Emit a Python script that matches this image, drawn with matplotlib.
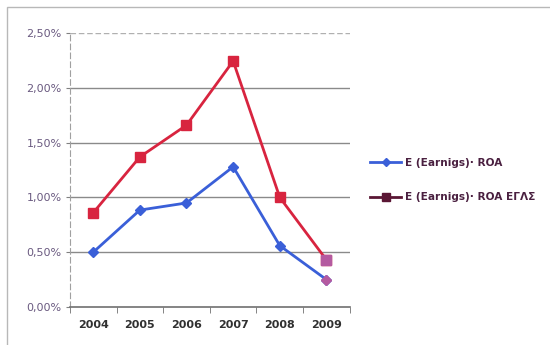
import matplotlib
matplotlib.use("Agg")
import matplotlib.pyplot as plt
from matplotlib.lines import Line2D
from matplotlib.patches import Rectangle
from matplotlib.ticker import FuncFormatter

years = ["2004", "2005", "2006", "2007", "2008", "2009"]
roa = [0.50, 0.885, 0.95, 1.28, 0.56, 0.25]
roa_eglas = [0.86, 1.37, 1.66, 2.245, 1.00, 0.43]
label_roa = "E (Earnigs)· ROA"
label_eglas = "E (Earnigs)· ROA ΕΓΛΣ"

blue = "#3a5fd8"
red = "#d8243f"
maroon = "#5a1634"
last_pt = "#b45aa0"
label_col = "#6a5a80"

fig = plt.figure(figsize=(5.5, 3.45), dpi=100)
fig.patch.set_facecolor("white")
fig.patches.append(Rectangle((0.012, -0.01), 1.0, 0.99, transform=fig.transFigure,
                             fill=False, edgecolor="#b8b8b8", linewidth=1.0))

ax = fig.add_axes([0.127, 0.110, 0.509, 0.794])
x = list(range(len(years)))

ax.plot(x, roa_eglas, color=red, linewidth=2.0, marker="s", markersize=7,
        markerfacecolor=red, markeredgecolor=red, zorder=3)
ax.plot(x, roa, color=blue, linewidth=2.0, marker="D", markersize=5,
        markerfacecolor=blue, markeredgecolor=blue, zorder=4)
# last year's points carry their own fill
ax.plot(x[-1:], roa_eglas[-1:], linestyle="none", marker="s", markersize=7,
        markerfacecolor=last_pt, markeredgecolor=last_pt, zorder=5)
ax.plot(x[-1:], roa[-1:], linestyle="none", marker="D", markersize=5,
        markerfacecolor=last_pt, markeredgecolor=last_pt, zorder=5)

ax.set_xlim(-0.5, len(years) - 0.5)
ax.set_ylim(0, 2.5)
ax.set_yticks([0, 0.5, 1.0, 1.5, 2.0, 2.5])
ax.yaxis.set_major_formatter(FuncFormatter(lambda v, p: f"{v:.2f}%".replace(".", ",")))
ax.set_xticks(x)
ax.set_xticklabels(years)
ax.set_xticks([i + 0.5 for i in x[:-1]] + [-0.5, len(years) - 0.5], minor=True)

for v in [0.5, 1.0, 1.5, 2.0]:
    ax.axhline(v, color="#8a8a8a", linewidth=1.0, zorder=1)
ax.axhline(2.5, color="#b0b0b0", linewidth=1.0, linestyle=(0, (4, 2)), zorder=1)

for s in ["top", "right"]:
    ax.spines[s].set_visible(False)
ax.spines["left"].set_color("#a0a0a0")
ax.spines["left"].set_linestyle((0, (5, 3)))
ax.spines["bottom"].set_color("#707070")
ax.spines["bottom"].set_linewidth(1.2)

ax.tick_params(axis="y", labelsize=8, labelcolor=label_col, length=3, color="#808080", pad=3)
ax.tick_params(axis="x", which="major", length=0, labelsize=8, labelcolor="#303030", pad=9)
ax.tick_params(axis="x", which="minor", length=4, color="#707070")
for t in ax.get_xticklabels():
    t.set_fontweight("bold")

handles = [
    Line2D([], [], color=blue, linewidth=2.0, marker="D", markersize=4.5),
    Line2D([], [], color=maroon, linewidth=2.0, marker="s", markersize=6),
]
fig.legend(handles, [label_roa, label_eglas], loc="center left",
           bbox_to_anchor=(0.655, 0.478), frameon=False,
           prop={"size": 7.6, "weight": "bold"},
           labelcolor="#4a2040", handlelength=3.0, handletextpad=0.3,
           labelspacing=2.3)

fig.savefig("out.png", dpi=100, facecolor="white")
